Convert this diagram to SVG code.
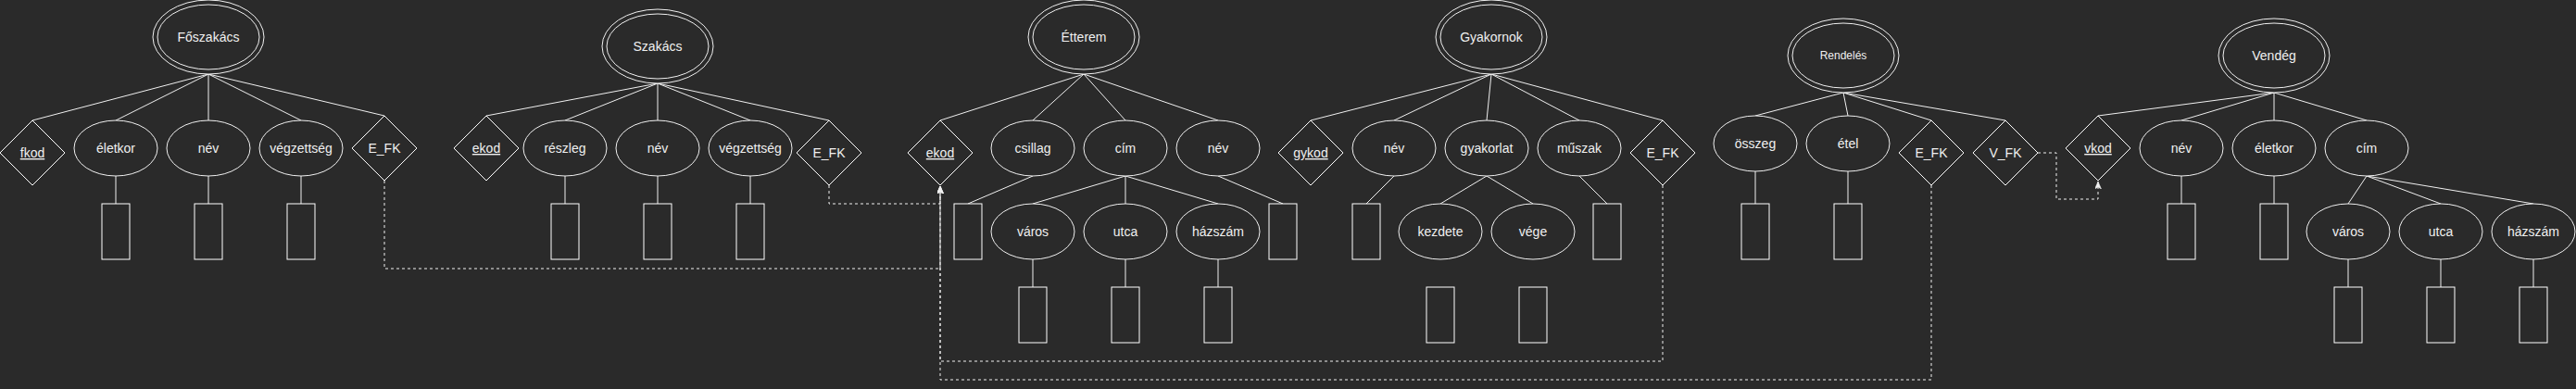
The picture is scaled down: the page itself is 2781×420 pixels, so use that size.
<svg xmlns="http://www.w3.org/2000/svg" width="2781" height="420" viewBox="0 0 2781 420">
<style>
.bg{fill:#2a2a2a}
.e{fill:#2a2a2a;stroke:#f0f0f0;stroke-width:1}
.d{fill:#2a2a2a;stroke:#ffffff;stroke-width:1}
.r{fill:#2a2a2a;stroke:#ffffff;stroke-width:1}
.t{font-family:"Liberation Sans",Arial,sans-serif;font-size:14px;fill:#f0f0f0;text-anchor:middle}
.s{font-size:12px}
.u{text-decoration:underline}
.c line,.c path{stroke:#f0f0f0;stroke-width:1;fill:none}
.c .dash{stroke-dasharray:3 3}
</style>
<defs>
<marker id="arr" markerUnits="userSpaceOnUse" markerWidth="10" markerHeight="8" refX="8" refY="3.5" orient="auto">
<path d="M0,0 L8,3.5 L0,7 L2,3.5 z" fill="#f0f0f0" stroke="#f0f0f0" stroke-width="0.5"/>
</marker>
</defs>
<rect class="bg" x="0" y="0" width="2781" height="420"/>

<g class="c" id="connectors">
<!-- Főszakács -->
<line x1="225" y1="80" x2="35" y2="130"/><line x1="225" y1="80" x2="125" y2="130"/><line x1="225" y1="80" x2="225" y2="130"/><line x1="225" y1="80" x2="325" y2="130"/><line x1="225" y1="80" x2="415" y2="125"/>
<line x1="125" y1="190" x2="125" y2="220"/><line x1="225" y1="190" x2="225" y2="220"/><line x1="325" y1="190" x2="325" y2="220"/>
<!-- Szakács -->
<line x1="710" y1="90" x2="525" y2="125"/><line x1="710" y1="90" x2="610" y2="130"/><line x1="710" y1="90" x2="710" y2="130"/><line x1="710" y1="90" x2="810" y2="130"/><line x1="710" y1="90" x2="895" y2="130"/>
<line x1="610" y1="190" x2="610" y2="220"/><line x1="710" y1="190" x2="710" y2="220"/><line x1="810" y1="190" x2="810" y2="220"/>
<!-- Étterem -->
<line x1="1170" y1="80" x2="1015" y2="130"/><line x1="1170" y1="80" x2="1115" y2="130"/><line x1="1170" y1="80" x2="1215" y2="130"/><line x1="1170" y1="80" x2="1315" y2="130"/>
<line x1="1115" y1="190" x2="1045" y2="220"/><line x1="1315" y1="190" x2="1385" y2="220"/>
<line x1="1215" y1="190" x2="1115" y2="220"/><line x1="1215" y1="190" x2="1215" y2="220"/><line x1="1215" y1="190" x2="1315" y2="220"/>
<line x1="1115" y1="280" x2="1115" y2="310"/><line x1="1215" y1="280" x2="1215" y2="310"/><line x1="1315" y1="280" x2="1315" y2="310"/>
<!-- Gyakornok -->
<line x1="1610" y1="80" x2="1415" y2="130"/><line x1="1610" y1="80" x2="1505" y2="130"/><line x1="1610" y1="80" x2="1605" y2="130"/><line x1="1610" y1="80" x2="1705" y2="130"/><line x1="1610" y1="80" x2="1795" y2="130"/>
<line x1="1505" y1="190" x2="1475" y2="220"/><line x1="1705" y1="190" x2="1735" y2="220"/>
<line x1="1605" y1="190" x2="1555" y2="220"/><line x1="1605" y1="190" x2="1655" y2="220"/>
<!-- Rendelés -->
<line x1="1990" y1="100" x2="1895" y2="125"/><line x1="1990" y1="100" x2="1995" y2="125"/><line x1="1990" y1="100" x2="2085" y2="130"/><line x1="1990" y1="100" x2="2165" y2="130"/>
<line x1="1895" y1="185" x2="1895" y2="220"/><line x1="1995" y1="185" x2="1995" y2="220"/>
<!-- Vendég -->
<line x1="2455" y1="100" x2="2265" y2="125"/><line x1="2455" y1="100" x2="2355" y2="130"/><line x1="2455" y1="100" x2="2455" y2="130"/><line x1="2455" y1="100" x2="2555" y2="130"/>
<line x1="2355" y1="190" x2="2355" y2="220"/><line x1="2455" y1="190" x2="2455" y2="220"/>
<line x1="2555" y1="190" x2="2535" y2="220"/><line x1="2555" y1="190" x2="2635" y2="220"/><line x1="2555" y1="190" x2="2735" y2="220"/>
<line x1="2535" y1="280" x2="2535" y2="310"/><line x1="2635" y1="280" x2="2635" y2="310"/><line x1="2735" y1="280" x2="2735" y2="310"/>
<!-- foreign keys -->
<path class="dash" d="M415,195 V290 H1015 V201" marker-end="url(#arr)"/>
<path class="dash" d="M895,200 V220 H1015 V201" marker-end="url(#arr)"/>
<path class="dash" d="M1795,200 V390 H1015 V201" marker-end="url(#arr)"/>
<path class="dash" d="M2085,200 V410 H1015 V201" marker-end="url(#arr)"/>
<path class="dash" d="M2200,165 H2220 V215 H2265 V196" marker-end="url(#arr)"/>
</g>

<!-- Főszakács -->
<g id="foszakacs"><ellipse class="e" cx="225" cy="40" rx="60" ry="40"/><ellipse class="e" cx="225" cy="40" rx="55" ry="35"/><text class="t" x="225" y="45">Főszakács</text></g>
<g id="fosz-fkod"><polygon class="d" points="35,130 70,165 35,200 0,165"/><text class="t u" x="35" y="170">fkod</text></g>
<g id="fosz-eletkor"><ellipse class="e" cx="125" cy="160" rx="45" ry="30"/><text class="t" x="125" y="165">életkor</text></g>
<g id="fosz-nev"><ellipse class="e" cx="225" cy="160" rx="45" ry="30"/><text class="t" x="225" y="165">név</text></g>
<g id="fosz-vegzettseg"><ellipse class="e" cx="325" cy="160" rx="45" ry="30"/><text class="t" x="325" y="165">végzettség</text></g>
<g id="fosz-efk"><polygon class="d" points="415,125 450,160 415,195 380,160"/><text class="t" x="415" y="165">E_FK</text></g>
<g id="fosz-rects"><rect class="r" x="110" y="220" width="30" height="60"/><rect class="r" x="210" y="220" width="30" height="60"/><rect class="r" x="310" y="220" width="30" height="60"/></g>

<!-- Szakács -->
<g id="szakacs"><ellipse class="e" cx="710" cy="50" rx="60" ry="40"/><ellipse class="e" cx="710" cy="50" rx="55" ry="35"/><text class="t" x="710" y="55">Szakács</text></g>
<g id="szak-ekod"><polygon class="d" points="525,125 560,160 525,195 490,160"/><text class="t u" x="525" y="165">ekod</text></g>
<g id="szak-reszleg"><ellipse class="e" cx="610" cy="160" rx="45" ry="30"/><text class="t" x="610" y="165">részleg</text></g>
<g id="szak-nev"><ellipse class="e" cx="710" cy="160" rx="45" ry="30"/><text class="t" x="710" y="165">név</text></g>
<g id="szak-vegzettseg"><ellipse class="e" cx="810" cy="160" rx="45" ry="30"/><text class="t" x="810" y="165">végzettség</text></g>
<g id="szak-efk"><polygon class="d" points="895,130 930,165 895,200 860,165"/><text class="t" x="895" y="170">E_FK</text></g>
<g id="szak-rects"><rect class="r" x="595" y="220" width="30" height="60"/><rect class="r" x="695" y="220" width="30" height="60"/><rect class="r" x="795" y="220" width="30" height="60"/></g>

<!-- Étterem -->
<g id="etterem"><ellipse class="e" cx="1170" cy="40" rx="60" ry="40"/><ellipse class="e" cx="1170" cy="40" rx="55" ry="35"/><text class="t" x="1170" y="45">Étterem</text></g>
<g id="ett-ekod"><polygon class="d" points="1015,130 1050,165 1015,200 980,165"/><text class="t u" x="1015" y="170">ekod</text></g>
<g id="ett-csillag"><ellipse class="e" cx="1115" cy="160" rx="45" ry="30"/><text class="t" x="1115" y="165">csillag</text></g>
<g id="ett-cim"><ellipse class="e" cx="1215" cy="160" rx="45" ry="30"/><text class="t" x="1215" y="165">cím</text></g>
<g id="ett-nev"><ellipse class="e" cx="1315" cy="160" rx="45" ry="30"/><text class="t" x="1315" y="165">név</text></g>
<g id="ett-varos"><ellipse class="e" cx="1115" cy="250" rx="45" ry="30"/><text class="t" x="1115" y="255">város</text></g>
<g id="ett-utca"><ellipse class="e" cx="1215" cy="250" rx="45" ry="30"/><text class="t" x="1215" y="255">utca</text></g>
<g id="ett-hazszam"><ellipse class="e" cx="1315" cy="250" rx="45" ry="30"/><text class="t" x="1315" y="255">házszám</text></g>
<g id="ett-rects"><rect class="r" x="1030" y="220" width="30" height="60"/><rect class="r" x="1370" y="220" width="30" height="60"/><rect class="r" x="1100" y="310" width="30" height="60"/><rect class="r" x="1200" y="310" width="30" height="60"/><rect class="r" x="1300" y="310" width="30" height="60"/></g>

<!-- Gyakornok -->
<g id="gyakornok"><ellipse class="e" cx="1610" cy="40" rx="60" ry="40"/><ellipse class="e" cx="1610" cy="40" rx="55" ry="35"/><text class="t" x="1610" y="45">Gyakornok</text></g>
<g id="gy-gykod"><polygon class="d" points="1415,130 1450,165 1415,200 1380,165"/><text class="t u" x="1415" y="170">gykod</text></g>
<g id="gy-nev"><ellipse class="e" cx="1505" cy="160" rx="45" ry="30"/><text class="t" x="1505" y="165">név</text></g>
<g id="gy-gyakorlat"><ellipse class="e" cx="1605" cy="160" rx="45" ry="30"/><text class="t" x="1605" y="165">gyakorlat</text></g>
<g id="gy-muszak"><ellipse class="e" cx="1705" cy="160" rx="45" ry="30"/><text class="t" x="1705" y="165">műszak</text></g>
<g id="gy-efk"><polygon class="d" points="1795,130 1830,165 1795,200 1760,165"/><text class="t" x="1795" y="170">E_FK</text></g>
<g id="gy-kezdete"><ellipse class="e" cx="1555" cy="250" rx="45" ry="30"/><text class="t" x="1555" y="255">kezdete</text></g>
<g id="gy-vege"><ellipse class="e" cx="1655" cy="250" rx="45" ry="30"/><text class="t" x="1655" y="255">vége</text></g>
<g id="gy-rects"><rect class="r" x="1460" y="220" width="30" height="60"/><rect class="r" x="1720" y="220" width="30" height="60"/><rect class="r" x="1540" y="310" width="30" height="60"/><rect class="r" x="1640" y="310" width="30" height="60"/></g>

<!-- Rendelés -->
<g id="rendeles"><ellipse class="e" cx="1990" cy="60" rx="60" ry="40"/><ellipse class="e" cx="1990" cy="60" rx="55" ry="35"/><text class="t s" x="1990" y="64">Rendelés</text></g>
<g id="ren-osszeg"><ellipse class="e" cx="1895" cy="155" rx="45" ry="30"/><text class="t" x="1895" y="160">összeg</text></g>
<g id="ren-etel"><ellipse class="e" cx="1995" cy="155" rx="45" ry="30"/><text class="t" x="1995" y="160">étel</text></g>
<g id="ren-efk"><polygon class="d" points="2085,130 2120,165 2085,200 2050,165"/><text class="t" x="2085" y="170">E_FK</text></g>
<g id="ren-vfk"><polygon class="d" points="2165,130 2200,165 2165,200 2130,165"/><text class="t" x="2165" y="170">V_FK</text></g>
<g id="ren-rects"><rect class="r" x="1880" y="220" width="30" height="60"/><rect class="r" x="1980" y="220" width="30" height="60"/></g>

<!-- Vendég -->
<g id="vendeg"><ellipse class="e" cx="2455" cy="60" rx="60" ry="40"/><ellipse class="e" cx="2455" cy="60" rx="55" ry="35"/><text class="t" x="2455" y="65">Vendég</text></g>
<g id="ven-vkod"><polygon class="d" points="2265,125 2300,160 2265,195 2230,160"/><text class="t u" x="2265" y="165">vkod</text></g>
<g id="ven-nev"><ellipse class="e" cx="2355" cy="160" rx="45" ry="30"/><text class="t" x="2355" y="165">név</text></g>
<g id="ven-eletkor"><ellipse class="e" cx="2455" cy="160" rx="45" ry="30"/><text class="t" x="2455" y="165">életkor</text></g>
<g id="ven-cim"><ellipse class="e" cx="2555" cy="160" rx="45" ry="30"/><text class="t" x="2555" y="165">cím</text></g>
<g id="ven-varos"><ellipse class="e" cx="2535" cy="250" rx="45" ry="30"/><text class="t" x="2535" y="255">város</text></g>
<g id="ven-utca"><ellipse class="e" cx="2635" cy="250" rx="45" ry="30"/><text class="t" x="2635" y="255">utca</text></g>
<g id="ven-hazszam"><ellipse class="e" cx="2735" cy="250" rx="45" ry="30"/><text class="t" x="2735" y="255">házszám</text></g>
<g id="ven-rects"><rect class="r" x="2340" y="220" width="30" height="60"/><rect class="r" x="2440" y="220" width="30" height="60"/><rect class="r" x="2520" y="310" width="30" height="60"/><rect class="r" x="2620" y="310" width="30" height="60"/><rect class="r" x="2720" y="310" width="30" height="60"/></g>
</svg>
